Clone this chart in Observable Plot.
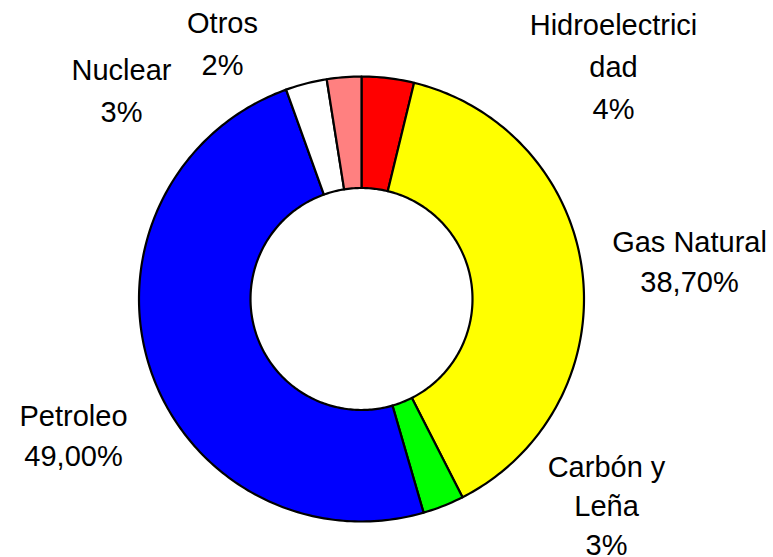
<!DOCTYPE html>
<html>
<head>
<meta charset="utf-8">
<script src="https://cdn.jsdelivr.net/npm/d3@7"></script>
<script src="https://cdn.jsdelivr.net/npm/@observablehq/plot@0.6"></script>
<style>
  html, body { margin: 0; padding: 0; background: #fff; }
  svg { display: block; }
</style>
</head>
<body>
<div id="chart"></div>
<script>
// ---- data (clockwise from 12 o'clock) ----
const categories = ["Hidroelectricidad", "Gas Natural", "Carbón y Leña", "Petroleo", "Nuclear", "Otros"];
const values = [3.8, 38.7, 3.0, 49.0, 3.0, 2.5];
const valueLabels = ["4%", "38,70%", "3%", "49,00%", "3%", "2%"];
const nameLabels = ["Hidroelectrici\ndad", "Gas Natural", "Carbón y\nLeña", "Petroleo", "Nuclear", "Otros"];
const colors = ["#FF0000", "#FFFF00", "#00FF00", "#0000FF", "#FFFFFF", "#FF8080"];

// ---- layout ----
const W = 773, H = 557;
const cx = 361, cy = 298.5, rOuter = 222.5, rInner = 111;
const fontSize = 29;
// label anchors: center x, first-line baseline y, line spacing (px)
const labelPos = [[613, 35, 42], [689, 252, 39.5], [606, 477, 39], [73, 426, 39.5], [121, 80, 42], [222, 33, 41.5]];

const total = d3.sum(values);
let cum = 0;
const marks = [];
values.forEach((v, i) => {
  const a0 = cum / total * 2 * Math.PI;
  cum += v;
  const a1 = cum / total * 2 * Math.PI;
  const n = Math.max(8, Math.ceil((a1 - a0) / (Math.PI / 180)));
  const pts = [];
  for (let k = 0; k <= n; k++) {
    const a = a0 + (a1 - a0) * k / n;
    pts.push({x: cx + rOuter * Math.sin(a), y: cy - rOuter * Math.cos(a)});
  }
  for (let k = n; k >= 0; k--) {
    const a = a0 + (a1 - a0) * k / n;
    pts.push({x: cx + rInner * Math.sin(a), y: cy - rInner * Math.cos(a)});
  }
  marks.push(Plot.line(pts, {
    x: "x", y: "y", curve: "linear-closed",
    fill: colors[i], stroke: "#000", strokeWidth: 2.2, strokeLinejoin: "round"
  }));
});

categories.forEach((c, i) => {
  const [lx, base, spacing] = labelPos[i];
  const lh = spacing / fontSize;
  // Plot's lineAnchor "top" puts the first baseline at 0.71 * lineHeight em below y
  const y = base - 0.71 * lh * fontSize;
  marks.push(Plot.text([{text: nameLabels[i] + "\n" + valueLabels[i], x: lx, y}], {
    x: "x", y: "y", text: "text",
    textAnchor: "middle", lineAnchor: "top", lineHeight: lh,
    fontSize, fill: "#000"
  }));
});

const chart = Plot.plot({
  width: W, height: H,
  margin: 0,
  style: {fontFamily: "'Liberation Sans', Arial, sans-serif", background: "#fff"},
  x: {domain: [0, W], range: [0, W], axis: null},
  y: {domain: [0, H], range: [0, H], axis: null},
  marks
});
document.getElementById("chart").appendChild(chart);
</script>
</body>
</html>
